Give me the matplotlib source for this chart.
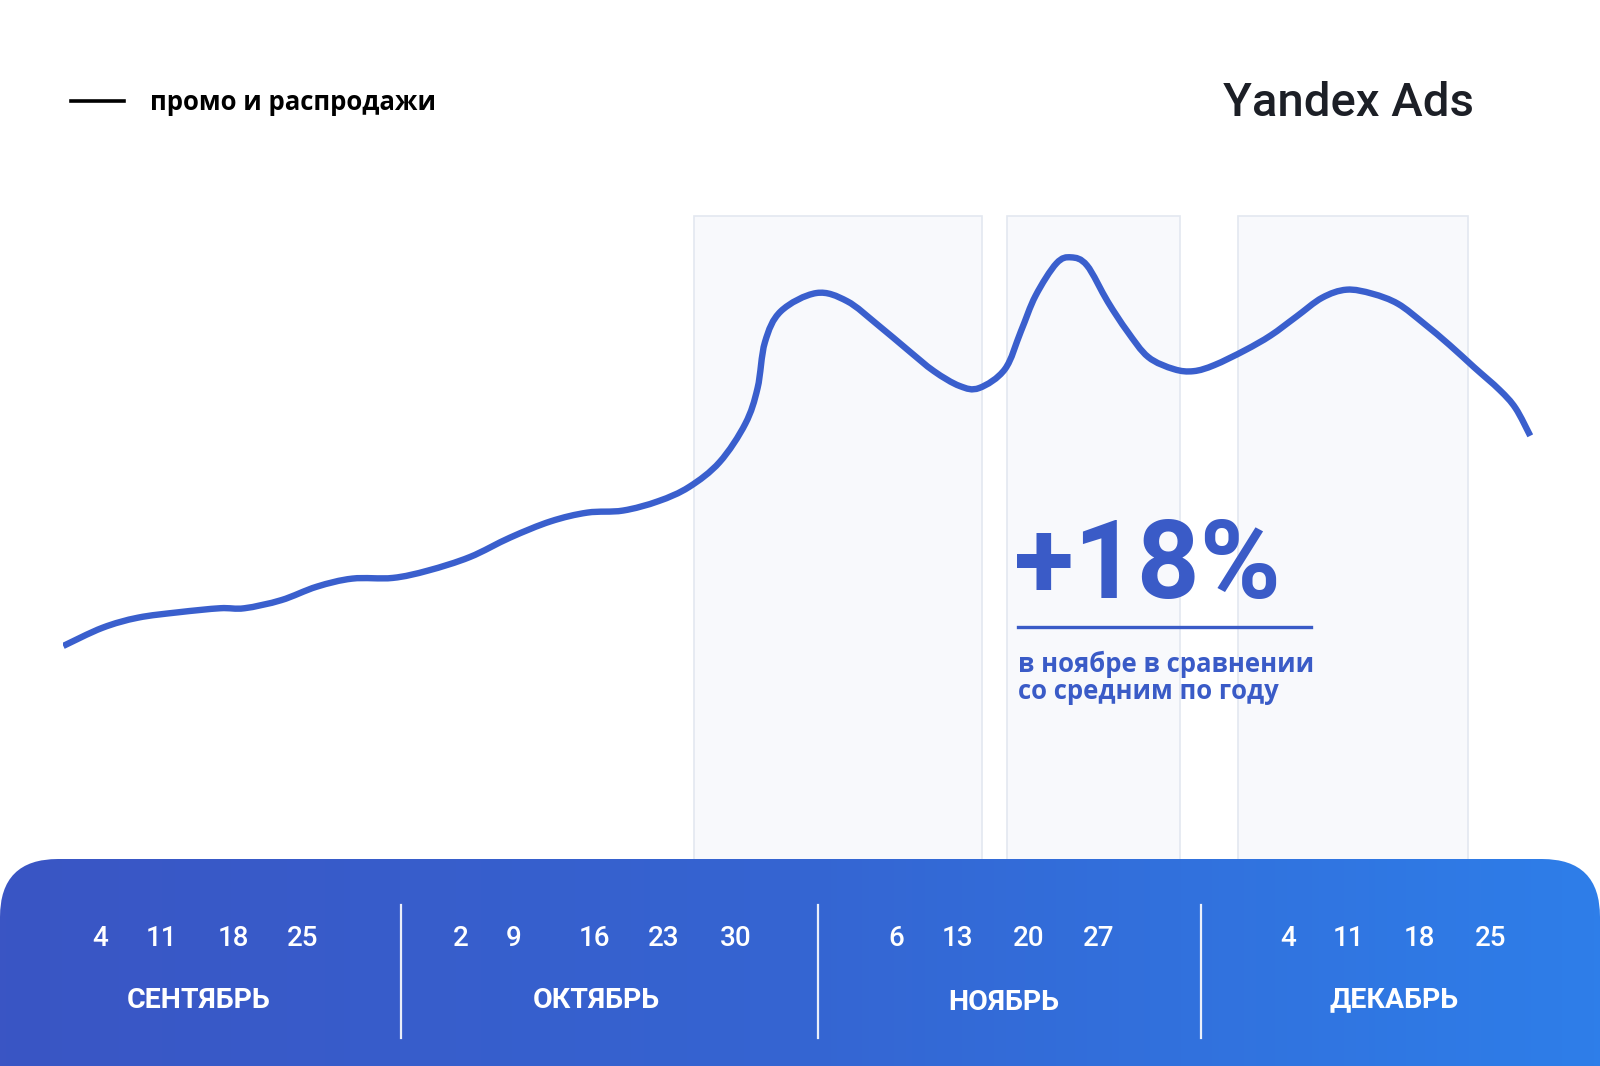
import numpy as np
import matplotlib
matplotlib.use("Agg")
from matplotlib import pyplot as plt
from matplotlib.path import Path
from matplotlib.patches import PathPatch, FancyBboxPatch, Rectangle
from matplotlib.colors import LinearSegmentedColormap

plt.rcParams["font.family"] = ["Open Sans", "DejaVu Sans"]

# line data: day since series start, relative level
days = [0, 3.2, 6.1, 9.4, 12.8, 14.8, 17.8, 20.7, 23.6, 26.9, 29.8, 33.2, 36.5,
        39.8, 42.8, 45.7, 48.6, 51.1, 53.6, 55.7, 56.7, 57.3, 58.6, 61.5, 64.0,
        66.5, 69.0, 71.1, 73.2, 74.8, 76.9, 78.2, 79.4, 81.1, 82.3, 83.6, 85.3,
        86.9, 88.6, 90.7, 92.3, 94.0, 96.5, 98.6, 100.7, 102.8, 104.8, 106.9,
        109.0, 111.1, 113.2, 115.2, 117.3, 118.6, 119.8]
level = [34.4, 37.1, 38.6, 39.4, 40.0, 40.0, 41.2, 43.2, 44.4, 44.5, 45.6, 47.6,
         50.5, 52.9, 54.2, 54.5, 55.9, 58.0, 61.7, 67.4, 72.7, 79.5, 84.1, 86.8,
         85.6, 82.1, 78.3, 75.2, 73.0, 72.7, 75.5, 81.1, 86.4, 91.2, 92.1, 90.9,
         85.5, 81.1, 77.3, 75.5, 75.2, 76.1, 78.3, 80.5, 83.3, 86.1, 87.3, 86.7,
         85.2, 82.3, 79.1, 75.8, 72.4, 69.7, 65.6]

# promo periods (start day, end day)
promo_start = [51.5, 77.1, 95.9]
promo_end = [75.0, 91.2, 114.7]

months = ["СЕНТЯБРЬ", "ОКТЯБРЬ", "НОЯБРЬ", "ДЕКАБРЬ"]
month_days = [["4", "11", "18", "25"],
              ["2", "9", "16", "23", "30"],
              ["6", "13", "20", "27"],
              ["4", "11", "18", "25"]]

# layout (pixels of the 1600x1066 canvas)
day_label_x = [[100, 161, 233, 303],
               [461, 514, 594, 664, 736],
               [896, 957, 1029, 1099],
               [1288, 1348, 1419, 1491]]
month_label_x = [199, 596, 1004, 1394]
month_label_y = [1000, 1000, 1003, 1000]
divider_x = [401, 818, 1201]

BLUE = "#3a5fcd"
TEXT_BLUE = "#3a5bc7"

fig = plt.figure(figsize=(16, 10.66), dpi=100)
fig.patch.set_facecolor("white")

# chart axes
ax = fig.add_axes([0.03955, 0.1767, 0.9184, 0.6318], zorder=1)
ax.set_xlim(0, 120)
ax.set_ylim(0, 100)
ax.axis("off")

for s, e in zip(promo_start, promo_end):
    ax.add_patch(Rectangle((s, -10), e - s, 108.3, facecolor="#f8f9fc",
                           edgecolor="#e3e8f0", lw=1.2, clip_on=False, zorder=1))

# smooth curve through the read points (Catmull-Rom as cubic Bezier)
pts = np.column_stack([days, level])
verts = [pts[0]]
codes = [Path.MOVETO]
n = len(pts)
for i in range(n - 1):
    p0 = pts[max(i - 1, 0)]
    p1 = pts[i]
    p2 = pts[i + 1]
    p3 = pts[min(i + 2, n - 1)]
    c1 = p1 + (p2 - p0) / 6.0
    c2 = p2 - (p3 - p1) / 6.0
    verts += [c1, c2, p2]
    codes += [Path.CURVE4] * 3
ax.add_patch(PathPatch(Path(verts, codes), facecolor="none", edgecolor=BLUE,
                       lw=4.6, capstyle="butt", joinstyle="round", zorder=3))

# overlay axes in pixel space for panel and texts
top = fig.add_axes([0, 0, 1, 1], zorder=2)
top.set_xlim(0, 1600)
top.set_ylim(1066, 0)
top.axis("off")
top.patch.set_alpha(0)

panel = FancyBboxPatch((0, 859), 1600, 300, boxstyle="round,pad=0,rounding_size=58",
                       facecolor="none", edgecolor="none")
top.add_patch(panel)
cmap = LinearSegmentedColormap.from_list("panel", ["#3a55c4", "#3565d2", "#2e7ee9"])
grad = np.linspace(0, 1, 512).reshape(1, -1)
im = top.imshow(grad, cmap=cmap, extent=[0, 1600, 1159, 859], aspect="auto", zorder=2)
im.set_clip_path(panel)
top.set_xlim(0, 1600)
top.set_ylim(1066, 0)

for x in divider_x:
    top.plot([x, x], [905, 1038], color="white", lw=1.6, alpha=0.9, zorder=3)

for labels, xs in zip(month_days, day_label_x):
    for lab, x in zip(labels, xs):
        top.text(x, 938, lab, color="white", fontsize=20, family=["Roboto", "DejaVu Sans"],
                 fontweight="medium", ha="center", va="center", zorder=4)
for m, x, y in zip(months, month_label_x, month_label_y):
    top.text(x, y, m, color="white", fontsize=20.5, fontweight="bold",
             family=["Roboto", "DejaVu Sans"], ha="center", va="center", zorder=4)

# legend
top.plot([71, 124], [101, 101], color="black", lw=2.6, zorder=4)
top.text(150, 102, "промо и распродажи", fontsize=18.5, fontweight="bold",
         color="black", ha="left", va="center", zorder=4)

# brand
top.text(1474, 103, "Yandex Ads", fontsize=34, fontweight="medium", color="#1c1f26",
         family=["Roboto", "DejaVu Sans"], ha="right", va="center", zorder=4)

# callout
top.text(1014, 598, "+18%", fontsize=79, fontweight="bold", color=TEXT_BLUE,
         family=["Roboto", "DejaVu Sans"], ha="left", va="baseline", zorder=4)
top.plot([1018, 1311], [627, 627], color=TEXT_BLUE, lw=2.4, zorder=4)
top.text(1018, 678, "в ноябре в сравнении\nсо средним по году", fontsize=18.5,
         fontweight="bold", color=TEXT_BLUE, ha="left", va="center",
         linespacing=1.0, zorder=4)

plt.savefig("out.png", dpi=100)
